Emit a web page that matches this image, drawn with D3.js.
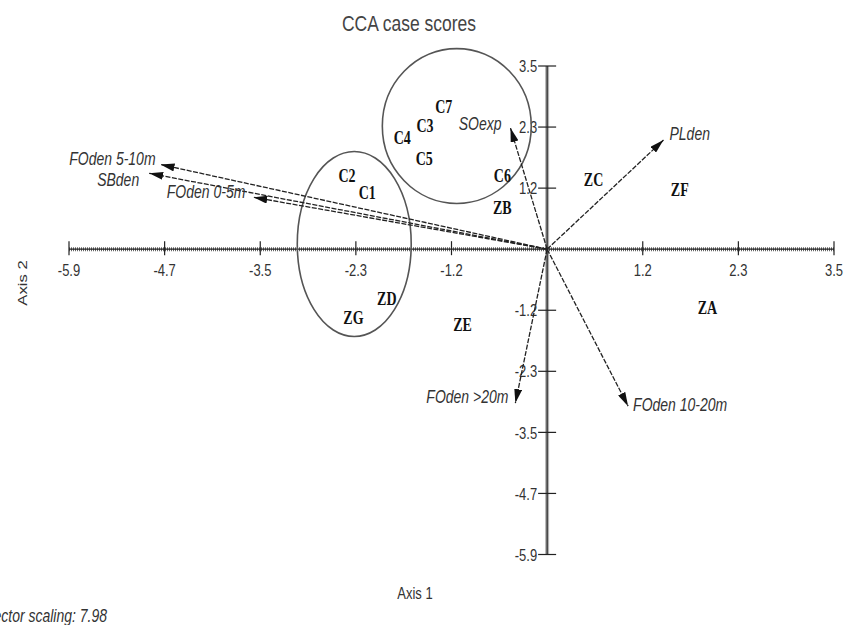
<!DOCTYPE html>
<html>
<head>
<meta charset="utf-8">
<script src="https://cdn.jsdelivr.net/npm/d3@7"></script>
<style>
  html, body { margin: 0; padding: 0; background: #fff; }
  svg { display: block; }
</style>
</head>
<body>
<svg id="chart" width="844" height="625"></svg>
<script>
// ---------------- DATA ----------------
const siteNames = ["C7","C3","C4","C5","C6","C2","C1","ZB","ZC","ZF","ZA","ZD","ZG","ZE"];
const siteX = [-1.27,-1.50,-1.78,-1.51,-0.55,-2.46,-2.21,-0.55,0.57,1.63,1.97,-1.97,-2.38,-1.04];
const siteY = [ 2.73, 2.37, 2.15, 1.73, 1.42, 1.42, 1.08, 0.79,1.33,1.15,-1.12,-0.96,-1.33,-1.46];

const vectorNames = ["FOden 5-10m","SBden","FOden 0-5m","SOexp","PLden","FOden >20m","FOden 10-20m"];
const vectorX = [-4.75,-4.89,-3.61,-0.45,1.43,-0.39,0.995];
const vectorY = [ 1.63, 1.46, 1.00, 2.33,2.10,-2.96,-3.02];

const tickValues = [-5.875,-4.7,-3.525,-2.35,-1.175,1.175,2.35,3.525];
const tickLabels = ["-5.9","-4.7","-3.5","-2.3","-1.2","1.2","2.3","3.5"];

// grouping ellipses drawn on the plot (centre and radii in axis units)
const groupCx = [-1.11,-2.37];
const groupCy = [ 2.37, 0.10];
const groupRx = [ 0.915, 0.70];
const groupRy = [ 1.49, 1.78];

const titleText = "CCA case scores";
const xAxisTitle = "Axis 1";
const yAxisTitle = "Axis 2";
const footnote = "Vector scaling: 7.98";

// ---------------- DRAWING ----------------
const svg = d3.select("#chart");
const x = d3.scaleLinear().domain([-5.875, 3.525]).range([69, 834]);
const y = d3.scaleLinear().domain([-5.875, 3.525]).range([554.5, 66]);
const SY = 1.28; // vertical text stretch as in the reference

function stretchedText(g, px, py, txt, opts) {
  const t = g.append("text")
    .attr("transform", `translate(${px},${py}) scale(1,${SY})`)
    .attr("text-anchor", opts.anchor || "middle")
    .attr("dominant-baseline", "central")
    .style("font-family", opts.family || "'Liberation Sans', Arial, sans-serif")
    .style("font-size", opts.size + "px")
    .style("font-style", opts.italic ? "italic" : "normal")
    .style("font-weight", opts.bold ? "bold" : "normal")
    .style("fill", opts.fill || "#222")
    .text(txt);
  return t;
}

// arrow marker
svg.append("defs").append("marker")
  .attr("id", "arrowhead")
  .attr("viewBox", "0 0 14 8")
  .attr("refX", 14).attr("refY", 4)
  .attr("markerWidth", 14).attr("markerHeight", 8)
  .attr("markerUnits", "userSpaceOnUse")
  .attr("orient", "auto")
  .append("path").attr("d", "M0,0 L14,4 L0,8 Z").attr("fill", "#111");

// title
stretchedText(svg, 409, 23, titleText, {size: 17.5, fill: "#444"});

// axes
const axesG = svg.append("g");
const x0 = x(0), y0 = y(0);
axesG.append("line").attr("x1", x.range()[0]).attr("x2", x.range()[1]).attr("y1", y0).attr("y2", y0)
  .attr("stroke", "#666").attr("stroke-width", 4).attr("stroke-dasharray", "1,1");
axesG.append("line").attr("x1", x.range()[0]).attr("x2", x.range()[1]).attr("y1", y0).attr("y2", y0)
  .attr("stroke", "#222").attr("stroke-width", 1.2);
axesG.append("line").attr("y1", y.range()[0]).attr("y2", y.range()[1]).attr("x1", x0).attr("x2", x0)
  .attr("stroke", "#666").attr("stroke-width", 4).attr("stroke-dasharray", "1,1");
axesG.append("line").attr("y1", y.range()[0]).attr("y2", y.range()[1]).attr("x1", x0).attr("x2", x0)
  .attr("stroke", "#222").attr("stroke-width", 1.2);

// x ticks
tickValues.forEach((v, i) => {
  axesG.append("line").attr("x1", x(v)).attr("x2", x(v)).attr("y1", y0 - 8).attr("y2", y0 + 6)
    .attr("stroke", "#222").attr("stroke-width", 1.2);
  stretchedText(axesG, x(v), 270, tickLabels[i], {size: 13, fill: "#333"});
});
// y ticks
tickValues.forEach((v, i) => {
  axesG.append("line").attr("x1", x0 - 9).attr("x2", x0 + 9).attr("y1", y(v)).attr("y2", y(v))
    .attr("stroke", "#222").attr("stroke-width", 1.2);
  stretchedText(axesG, x0 - 10, y(v), tickLabels[i], {size: 13, fill: "#333", anchor: "end"});
});

// axis titles
svg.append("text")
  .attr("transform", `translate(22,283) rotate(-90) scale(${SY},1)`)
  .attr("text-anchor", "middle").attr("dominant-baseline", "central")
  .style("font-family", "'Liberation Sans', Arial, sans-serif").style("font-size", "13px").style("fill", "#333")
  .text(yAxisTitle);
stretchedText(svg, 415, 593, xAxisTitle, {size: 13, fill: "#333"});
stretchedText(svg, 107, 615, footnote, {size: 14, fill: "#333", italic: true, anchor: "end"});

// group ellipses
svg.append("g").selectAll("ellipse").data(groupCx).join("ellipse")
  .attr("cx", (d) => x(d))
  .attr("cy", (d, i) => y(groupCy[i]))
  .attr("rx", (d, i) => x(groupRx[i]) - x(0))
  .attr("ry", (d, i) => y(0) - y(groupRy[i]))
  .attr("fill", "none").attr("stroke", "#555").attr("stroke-width", 1.6);

// vectors
const vecG = svg.append("g");
vectorNames.forEach((name, i) => {
  vecG.append("line")
    .attr("x1", x0).attr("y1", y0)
    .attr("x2", x(vectorX[i])).attr("y2", y(vectorY[i]))
    .attr("stroke", "#222").attr("stroke-width", 1.3)
    .attr("stroke-dasharray", "5,1.5")
    .attr("marker-end", "url(#arrowhead)");
});
// vector label placement (style only)
const vecLabelPlace = {
  "FOden 5-10m": {anchor: "end", dx: -5, dy: -6},
  "SBden": {anchor: "end", dx: -10, dy: 6},
  "FOden 0-5m": {anchor: "end", dx: -8, dy: -6},
  "SOexp": {anchor: "end", dx: -9, dy: -5},
  "PLden": {anchor: "start", dx: 6, dy: -7},
  "FOden >20m": {anchor: "end", dx: -7, dy: -7},
  "FOden 10-20m": {anchor: "start", dx: 5, dy: -2}
};
vectorNames.forEach((name, i) => {
  const p = vecLabelPlace[name];
  stretchedText(vecG, x(vectorX[i]) + p.dx, y(vectorY[i]) + p.dy, name,
    {size: 14, italic: true, anchor: p.anchor, fill: "#333"});
});

// site scores
const siteG = svg.append("g");
siteNames.forEach((name, i) => {
  stretchedText(siteG, x(siteX[i]), y(siteY[i]), name,
    {size: 14, bold: true, family: "'Liberation Serif', 'Times New Roman', serif", fill: "#111"});
});
</script>
</body>
</html>
